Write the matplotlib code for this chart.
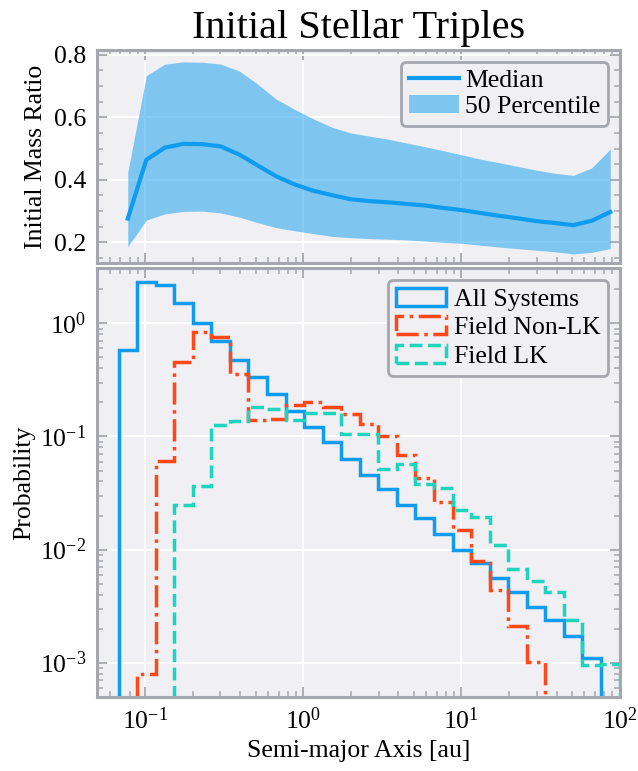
import numpy as np
import matplotlib.pyplot as plt
from matplotlib.ticker import LogLocator, MultipleLocator, NullFormatter

# Fonts
# ======================================================
plt.rcParams['font.family'] = 'serif'
plt.rcParams['font.serif'] = ['Liberation Serif', 'DejaVu Serif']
plt.rcParams['mathtext.fontset'] = 'stix'
FS = 18.5

# Colours
# ======================================================
BG = '#EFEFF4'
SPINE = '#A6A6AE'
BLUE = '#0F9CEE'
ORANGE = '#FF4717'
TEAL = '#1DD5BC'

# Binning (log-spaced semi-major axis bins, au)
# ======================================================
bin_edges = np.logspace(-1.167, 2.117, 29)
bin_mid = np.sqrt(bin_edges[:-1] * bin_edges[1:])

# Top panel: mass ratio per bin (first 27 bins)
median_q = [0.276, 0.464, 0.503, 0.515, 0.514, 0.507, 0.481, 0.446, 0.411,
            0.385, 0.365, 0.351, 0.338, 0.332, 0.328, 0.323, 0.318, 0.310,
            0.303, 0.294, 0.285, 0.277, 0.268, 0.262, 0.255, 0.269, 0.297]
upper_q = [0.424, 0.733, 0.770, 0.777, 0.776, 0.770, 0.748, 0.706, 0.658,
           0.625, 0.595, 0.568, 0.550, 0.540, 0.530, 0.518, 0.506, 0.493,
           0.480, 0.466, 0.455, 0.443, 0.431, 0.421, 0.414, 0.438, 0.498]
lower_q = [0.186, 0.271, 0.291, 0.299, 0.300, 0.294, 0.281, 0.263, 0.247,
           0.237, 0.228, 0.219, 0.215, 0.212, 0.210, 0.208, 0.204, 0.200,
           0.197, 0.191, 0.185, 0.180, 0.175, 0.170, 0.163, 0.168, 0.180]

# Bottom panel: probability density per bin (28 bins)
p_all = [0.58, 2.33, 2.18, 1.53, 1.00, 0.70, 0.47, 0.337, 0.237, 0.169,
         0.122, 0.089, 0.0635, 0.0459, 0.0345, 0.0249, 0.019, 0.0138,
         0.0100, 0.0076, 0.00566, 0.00423, 0.00312, 0.00238, 0.00172,
         0.00109, 0.0, 0.0]
p_nonlk = [0.0, 0.0008, 0.0604, 0.455, 0.832, 0.762, 0.354, 0.139, 0.142,
           0.189, 0.202, 0.183, 0.157, 0.130, 0.100, 0.068, 0.043, 0.0264,
           0.0148, 0.0080, 0.0044, 0.0021, 0.00101, 0.0, 0.0, 0.0, 0.0, 0.0]
p_lk = [0.0, 0.0, 0.0, 0.0247, 0.0365, 0.126, 0.138, 0.184, 0.174, 0.14,
        0.16, 0.16, 0.106, 0.106, 0.052, 0.0575, 0.038, 0.0352, 0.0225,
        0.0194, 0.0109, 0.00667, 0.00525, 0.00422, 0.0024, 0.00095,
        0.00097, 0.0]


def style_axes(ax):
    ax.set_facecolor(BG)
    ax.set_axisbelow(True)
    ax.grid(True, which='major', color='white', linewidth=1.4)
    for spine in ax.spines.values():
        spine.set_color(SPINE)
        spine.set_linewidth(2.2)
    ax.tick_params(which='both', direction='in', top=True, right=True,
                   color=SPINE, labelsize=FS)
    ax.tick_params(which='major', length=7, width=1.3, pad=8)
    ax.tick_params(which='minor', length=4, width=1.1)


# ========== Main Code ==========
fig = plt.figure(figsize=(6.38, 7.71), dpi=100)
ax1 = fig.add_axes([0.1525, 0.6585, 0.8186, 0.2766])
ax2 = fig.add_axes([0.1525, 0.0964, 0.8186, 0.5556], sharex=ax1)

# Top panel
mid = bin_mid[:len(median_q)]
ax1.fill_between(mid, lower_q, upper_q, color=BLUE, alpha=0.5, linewidth=0,
                 label='50 Percentile')
ax1.plot(mid, median_q, color=BLUE, linewidth=3.0, label='Median')
style_axes(ax1)
ax1.set_xscale('log')
ax1.set_xlim(0.05, 100)
ax1.set_ylim(0.133, 0.815)
ax1.yaxis.set_major_locator(MultipleLocator(0.2))
ax1.yaxis.set_minor_locator(MultipleLocator(0.05))
ax1.tick_params(labelbottom=False)
ax1.set_ylabel('Initial Mass Ratio', fontsize=FS, labelpad=5)
ax1.set_title('Initial Stellar Triples', fontsize=29, pad=9)
handles, labels = ax1.get_legend_handles_labels()
leg1 = ax1.legend(handles[::-1], labels[::-1], loc='upper right', fontsize=FS,
                  handlelength=1.95, facecolor=BG, edgecolor=SPINE,
                  framealpha=1.0, borderpad=0.3, labelspacing=0.1,
                  handletextpad=0.25, borderaxespad=0.45)
leg1.get_frame().set_linewidth(2.0)

# Bottom panel
ax2.hist(bin_mid, bins=bin_edges, weights=p_all, histtype='step',
         color=BLUE, linewidth=2.5, label='All Systems')
ax2.hist(bin_mid, bins=bin_edges, weights=p_nonlk, histtype='step',
         color=ORANGE, linewidth=2.5, linestyle='-.', label='Field Non-LK')
ax2.hist(bin_mid, bins=bin_edges, weights=p_lk, histtype='step',
         color=TEAL, linewidth=2.5, linestyle='--', label='Field LK')
style_axes(ax2)
ax2.set_yscale('log', nonpositive='clip')
ax2.set_xlim(0.05, 100)
ax2.set_ylim(5e-4, 3.07)
ax2.xaxis.set_major_locator(LogLocator(base=10))
ax2.xaxis.set_minor_locator(LogLocator(base=10, subs=np.arange(2, 10)))
ax2.xaxis.set_minor_formatter(NullFormatter())
ax2.yaxis.set_minor_locator(LogLocator(base=10, subs=np.arange(2, 10)))
ax2.yaxis.set_minor_formatter(NullFormatter())
ax2.set_xlabel('Semi-major Axis [au]', fontsize=FS, labelpad=4)
ax2.set_ylabel('Probability', fontsize=FS, labelpad=3)
leg2 = ax2.legend(loc='upper right', fontsize=FS, handlelength=1.95,
                  facecolor=BG, edgecolor=SPINE, framealpha=1.0,
                  borderpad=0.3, labelspacing=0.22, handletextpad=0.3,
                  borderaxespad=0.45)
leg2.get_frame().set_linewidth(2.0)

fig.savefig('out.png', dpi=100)
plt.close()
